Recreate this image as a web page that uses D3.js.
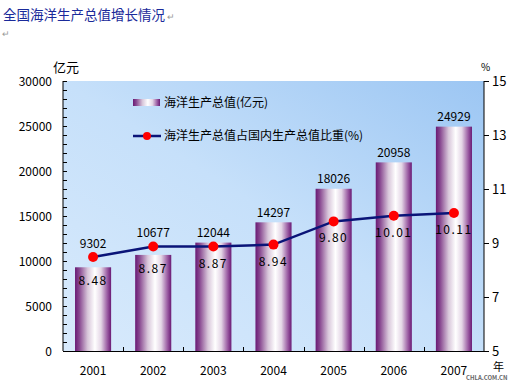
<!DOCTYPE html>
<html><head><meta charset="utf-8">
<script src="https://cdn.jsdelivr.net/npm/d3@7"></script>
<style>body{margin:0;background:#fff;}svg{display:block;}text{font-family:"Noto Sans CJK JP","Noto Sans CJK SC",sans-serif;}</style>
</head><body>
<svg id="c" width="516" height="382"></svg>
<script>
const years = ["2001","2002","2003","2004","2005","2006","2007"];
const gdpValues = [9302,10677,12044,14297,18026,20958,24929];
const shareValues = [8.48,8.87,8.87,8.94,9.80,10.01,10.11];
const shareLabels = ["8.48","8.87","8.87","8.94","9.80","10.01","10.11"];
const leftTicks = [0,5000,10000,15000,20000,25000,30000];
const rightTicks = [5,7,9,11,13,15];

const svg = d3.select("#c");
const m = {l:63, r:484, t:81, b:351};
const defs = svg.append("defs");
const bg = defs.append("linearGradient").attr("id","bg").attr("x1","0").attr("y1","1").attr("x2","1").attr("y2","0");
bg.append("stop").attr("offset","0").attr("stop-color","#d8eafc");
bg.append("stop").attr("offset","0.5").attr("stop-color","#c6e0fa");
bg.append("stop").attr("offset","1").attr("stop-color","#9cc6f3");
const bar = defs.append("linearGradient").attr("id","bar").attr("x1","0").attr("x2","1").attr("y1","0").attr("y2","0");
[[0,"#6a1a74"],[0.12,"#884890"],[0.35,"#d8c6da"],[0.55,"#ffffff"],[0.72,"#e4d6e6"],[0.9,"#9858a0"],[1,"#6a1a74"]].forEach(s=>bar.append("stop").attr("offset",s[0]).attr("stop-color",s[1]));

svg.append("rect").attr("x",m.l).attr("y",m.t).attr("width",m.r-m.l).attr("height",m.b-m.t).attr("fill","url(#bg)");

const x = d3.scaleBand().domain(years).range([m.l,m.r]).paddingInner(0.4).paddingOuter(0.2);
const xb = d3.scaleBand().domain(years).range([m.l,m.r]);
const y = d3.scaleLinear().domain([0,30000]).range([m.b,m.t]);
const y2 = d3.scaleLinear().domain([5,15]).range([m.b,m.t]);
const cx = d => xb(d)+xb.bandwidth()/2;

svg.selectAll("rect.b").data(years).enter().append("rect").attr("class","b")
  .attr("x",d=>x(d)).attr("width",x.bandwidth())
  .attr("y",(d,i)=>y(gdpValues[i])).attr("height",(d,i)=>m.b-y(gdpValues[i]))
  .attr("fill","url(#bar)");

svg.selectAll("text.bv").data(years).enter().append("text")
  .attr("x",cx).attr("y",(d,i)=>Math.min(y(gdpValues[i])-10, y2(shareValues[i])-14)+4.5)
  .attr("text-anchor","middle").attr("font-size",12).attr("fill","#000").text((d,i)=>gdpValues[i]);

const line = d3.line().x((d,i)=>cx(years[i])).y(d=>y2(d));
svg.append("path").attr("d",line(shareValues)).attr("fill","none").attr("stroke","#0a1478").attr("stroke-width",2.5);
svg.selectAll("circle.p").data(shareValues).enter().append("circle")
  .attr("cx",(d,i)=>cx(years[i])).attr("cy",d=>y2(d)).attr("r",5).attr("fill","#ff0000");
svg.selectAll("text.pv").data(shareValues).enter().append("text")
  .attr("x",(d,i)=>cx(years[i]))
  .attr("y",(d,i)=>Math.max(y2(d)+16, y(gdpValues[i])+13)+5)
  .attr("text-anchor","middle").attr("font-size",12).attr("letter-spacing","1.5").attr("fill","#000").text((d,i)=>shareLabels[i]);

// left axis
const ax = svg.append("g");
ax.append("line").attr("x1",m.l).attr("x2",m.l).attr("y1",m.t).attr("y2",m.b).attr("stroke","#000");
d3.range(0,30001,1000).forEach(v=>ax.append("line").attr("x1",m.l).attr("x2",m.l+4).attr("y1",Math.round(y(v))+0.5).attr("y2",Math.round(y(v))+0.5).attr("stroke","#000"));
ax.selectAll("text").data(leftTicks).enter().append("text").attr("x",52).attr("y",d=>y(d)+4.5).attr("text-anchor","end").attr("font-size",12).text(d=>d);
// right axis
ax.append("line").attr("x1",m.r).attr("x2",m.r).attr("y1",m.t).attr("y2",m.b).attr("stroke","#000");
rightTicks.forEach(v=>ax.append("line").attr("x1",m.r).attr("x2",m.r+5).attr("y1",Math.round(y2(v))+0.5).attr("y2",Math.round(y2(v))+0.5).attr("stroke","#000"));
ax.selectAll("text.r").data(rightTicks).enter().append("text").attr("x",492).attr("y",d=>y2(d)+5).attr("font-size",13).text(d=>d);
// bottom axis
ax.append("line").attr("x1",m.l).attr("x2",m.r).attr("y1",m.b+0.5).attr("y2",m.b+0.5).attr("stroke","#000");
years.slice(1).forEach(d=>ax.append("line").attr("x1",Math.round(xb(d))+0.5).attr("x2",Math.round(xb(d))+0.5).attr("y1",m.b).attr("y2",m.b-4).attr("stroke","#000"));
ax.selectAll("text.x").data(years).enter().append("text").attr("x",cx).attr("y",375).attr("text-anchor","middle").attr("font-size",12).text(d=>d);
svg.append("text").attr("x",493).attr("y",371).attr("font-size",11).text("年");
svg.append("text").attr("x",466).attr("y",380).attr("font-size",6).attr("font-weight","bold").attr("fill","#666").text("CHLA.COM.CN");

// units
svg.append("text").attr("x",53).attr("y",72).attr("font-size",13).text("亿元");
svg.append("text").attr("x",481).attr("y",71).attr("font-size",10).text("%");

// legend
svg.append("rect").attr("x",133).attr("y",99).attr("width",27).attr("height",7).attr("fill","url(#bar)");
svg.append("text").attr("x",164).attr("y",107).attr("font-size",12).text("海洋生产总值(亿元)");
svg.append("line").attr("x1",133).attr("x2",161).attr("y1",136).attr("y2",136).attr("stroke","#0a1478").attr("stroke-width",2.5);
svg.append("circle").attr("cx",147).attr("cy",136).attr("r",4).attr("fill","#ff0000");
svg.append("text").attr("x",164).attr("y",140).attr("font-size",12).text("海洋生产总值占国内生产总值比重(%)");

// title
svg.append("text").attr("x",3).attr("y",20).attr("font-size",13.5).attr("fill","#1a2a9a").text("全国海洋生产总值增长情况");
svg.append("text").attr("x",167).attr("y",20).attr("font-size",9).attr("fill","#999").text("↵");
svg.append("text").attr("x",2).attr("y",37).attr("font-size",9).attr("fill","#999").text("↵");
</script>
</body></html>
